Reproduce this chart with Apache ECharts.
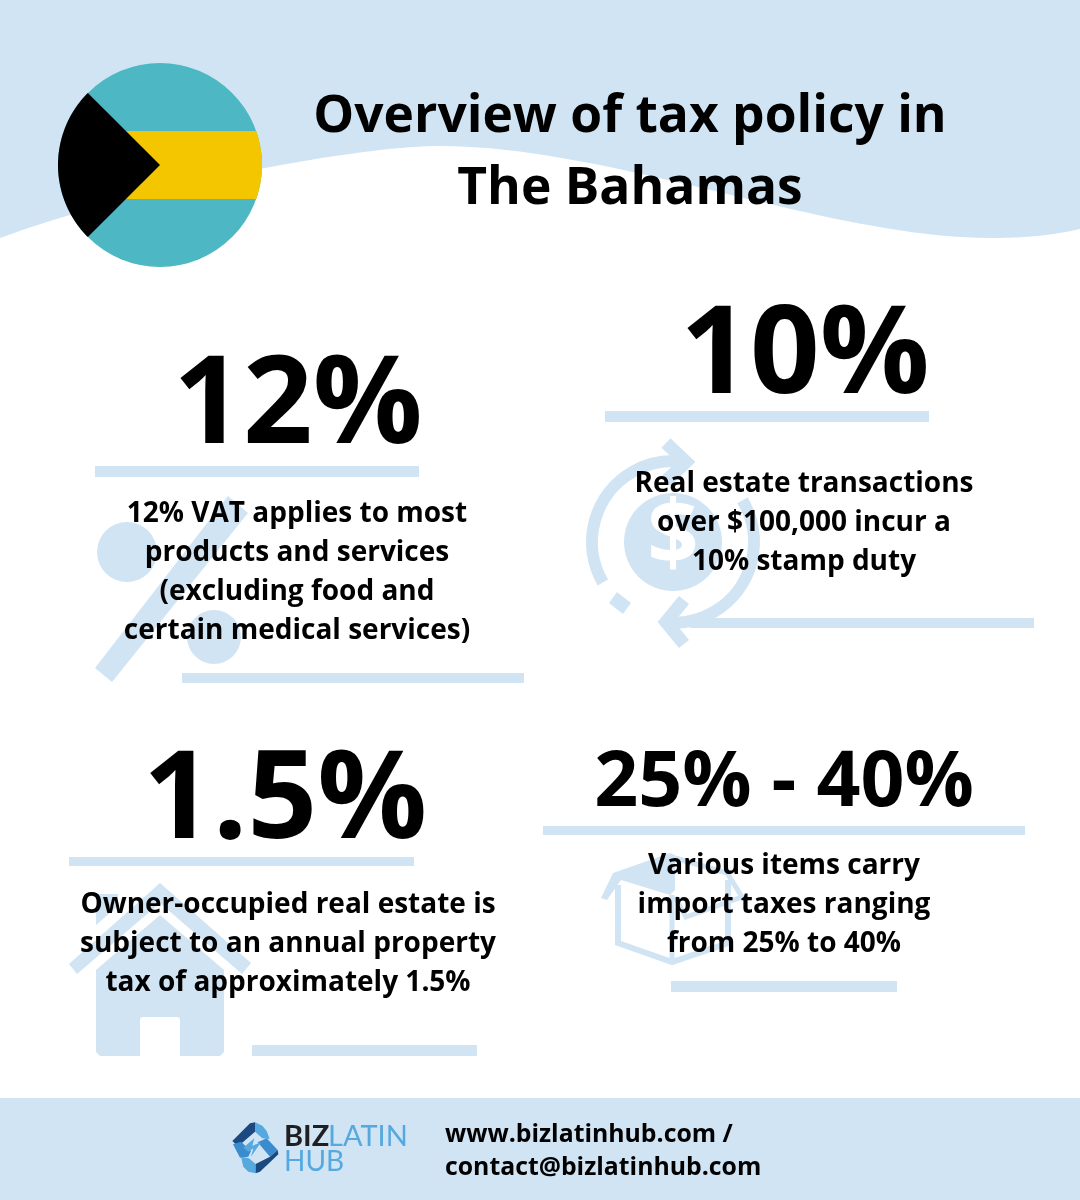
<!DOCTYPE html>
<html>
<head>
<meta charset="utf-8">
<title>Overview of tax policy in The Bahamas</title>
<style>
html, body { margin: 0; padding: 0; background: #fff; }
#main { width: 1080px; height: 1200px; }
</style>
<script src="https://cdn.jsdelivr.net/npm/echarts@6/dist/echarts.min.js"></script>
</head>
<body>
<div id="main"></div>
<script>
// 文案数据
var titleLines = ['Overview of tax policy in', 'The Bahamas'];
var rates = ['12%', '10%', '1.5%', '25% - 40%'];
var vatLines = ['12% VAT applies to most', 'products and services', '(excluding food and', 'certain medical services)'];
var stampLines = ['Real estate transactions', 'over $100,000 incur a', '10% stamp duty'];
var propertyLines = ['Owner-occupied real estate is', 'subject to an annual property', 'tax of approximately 1.5%'];
var importLines = ['Various items carry', 'import taxes ranging', 'from 25% to 40%'];
var contactLines = ['www.bizlatinhub.com /', 'contact@bizlatinhub.com'];

var PALE = '#d1e4f4';
var FONT = '"Open Sans", sans-serif';
var els = [];

function rect(x, y, w, h, fill, r) {
    els.push({ type: 'rect', shape: { x: x, y: y, width: w, height: h, r: r || 0 }, style: { fill: fill || PALE } });
}
function poly(points, fill) {
    els.push({ type: 'polygon', shape: { points: points }, style: { fill: fill || PALE } });
}
function line(points, width) {
    els.push({ type: 'polyline', shape: { points: points }, style: { stroke: PALE, lineWidth: width, fill: null, lineJoin: 'miter' } });
}
function arc(cx, cy, r, a0, a1, width) {
    els.push({
        type: 'arc',
        shape: { cx: cx, cy: cy, r: r, startAngle: a0 * Math.PI / 180, endAngle: a1 * Math.PI / 180, clockwise: true },
        style: { stroke: PALE, lineWidth: width, fill: null }
    });
}
function circle(cx, cy, r, fill) {
    els.push({ type: 'circle', shape: { cx: cx, cy: cy, r: r }, style: { fill: fill || PALE } });
}
function text(str, x, y, size, opts) {
    opts = opts || {};
    els.push({
        type: 'text',
        x: x,
        y: y,
        style: {
            text: str,
            fill: opts.fill || '#000',
            font: (opts.weight || 'bold') + ' ' + size + 'px ' + (opts.family || FONT),
            textAlign: opts.align || 'center',
            textVerticalAlign: 'middle',
            verticalAlign: 'middle'
        }
    });
}
// 多行文字
function textBlock(lines, x, ys, size) {
    for (var i = 0; i < lines.length; i++) {
        text(lines[i], x, ys[i], size);
    }
}
// 贝塞尔曲线转折线点
function bezier(p0, p1, p2, p3) {
    var out = [];
    for (var i = 0; i <= 40; i++) {
        var t = i / 40, u = 1 - t;
        out.push([
            u * u * u * p0[0] + 3 * u * u * t * p1[0] + 3 * u * t * t * p2[0] + t * t * t * p3[0],
            u * u * u * p0[1] + 3 * u * u * t * p1[1] + 3 * u * t * t * p2[1] + t * t * t * p3[1]
        ]);
    }
    return out;
}
function arcPoints(cx, cy, r, a0, a1) {
    var out = [];
    for (var i = 0; i <= 60; i++) {
        var a = (a0 + (a1 - a0) * i / 60) * Math.PI / 180;
        out.push([cx + r * Math.cos(a), cy + r * Math.sin(a)]);
    }
    return out;
}

// 顶部波浪背景
var wave = [[0, 0], [1080, 0], [1080, 229]]
    .concat(bezier([1080, 229], [1050, 236], [1020, 238], [990, 238]))
    .concat(bezier([990, 238], [830, 238], [610, 146], [440, 146]))
    .concat(bezier([440, 146], [350, 146], [130, 190], [0, 238]));
poly(wave);

// 底部色条
rect(0, 1098, 1080, 102);

// 百分号图标
poly([[95, 668], [112, 682], [248, 513], [228, 496]]);
circle(127, 552, 30);
circle(214, 637, 27);

// 货币循环图标
circle(673, 542, 49);
text('$', 673, 538, 90, { fill: '#fff' });
arc(673, 542, 81, 150, 277, 12);
arc(673, 542, 81, -31, 94, 12);
line([[666, 443], [686, 462], [666, 481]], 13);
line([[684, 600], [666, 622], [684, 644]], 13);
poly([[617, 592], [631, 603], [623, 614], [609, 603]]);

// 房屋图标
poly([[96, 894], [118, 894], [118, 906], [96, 925]]);
poly([[160, 883], [251, 963], [242, 974], [160, 903], [77, 974], [69, 964]]);
poly([[160, 915], [224, 970], [224, 1052], [220, 1056], [100, 1056], [96, 1052], [96, 970]]);
rect(140, 1017, 40, 39, '#fff', [3, 3, 0, 0]);

// 箱子图标
poly([[601, 898], [613, 873], [670, 853], [675, 855], [675, 890], [670, 895], [621, 880], [607, 900]]);
line([[675, 858], [727, 873], [742, 897], [686, 917], [675, 897]], 5);
line([[618, 885], [618, 943], [672, 962], [728, 943], [728, 880]], 6);
line([[672, 895], [672, 960]], 5);

// 分隔条
rect(95, 466, 324, 11);
rect(182, 673, 342, 10);
rect(605, 411, 324, 11);
rect(690, 618, 344, 10);
rect(69, 857, 345, 9);
rect(252, 1045, 225, 11);
rect(543, 826, 482, 9);
rect(671, 981, 226, 11);

// 国旗
circle(160, 165, 102, '#4db8c4');
poly([[110, 131]].concat(arcPoints(160, 165, 102, -19.5, 19.5)).concat([[110, 199]]), '#f4c600');
poly(arcPoints(160, 165, 102, 135, 225).concat([[160, 165]]), '#000');

// 标题
textBlock(titleLines, 630, [117, 189], 51.5);

// 四组税率
text(rates[0], 298, 408, 122);
text(rates[1], 805, 358, 122);
text(rates[2], 285, 803, 122);
text(rates[3], 784, 784, 77);
textBlock(vatLines, 297, [514, 553, 592, 631], 28);
textBlock(stampLines, 804, [484, 523, 562], 28);
textBlock(propertyLines, 288, [905, 944, 983], 28);
textBlock(importLines, 784, [866, 905, 944], 28);

// 页脚 logo
var DARK = '#1b4a80', MID = '#3a8ccf', SKY = '#56a9df';
var L = function (pts) {
    return pts.map(function (p) { return [225 + p[0] / 3, 1115 + p[1] / 3]; });
};
poly(L([[90, 22], [112, 32], [125, 48], [134, 72], [112, 70], [90, 50]]), SKY);
poly(L([[22, 78], [75, 25], [90, 22], [90, 50], [50, 85], [42, 97]]), DARK);
poly(L([[24, 88], [48, 80], [78, 108], [70, 125], [45, 128]]), MID);
poly(L([[98, 82], [125, 70], [158, 105], [135, 125]]), MID);
poly(L([[48, 125], [72, 130], [92, 147], [92, 175], [70, 170], [55, 155]]), SKY);
poly(L([[158, 105], [160, 118], [105, 170], [92, 175], [92, 147], [135, 125]]), DARK);
poly(L([[55, 98], [88, 70], [82, 92], [108, 82], [78, 125], [85, 100], [70, 110]]), SKY);
text('BIZ', 284, 1137, 29, { align: 'left', family: 'Lato, sans-serif', fill: '#1f1f22' });
text('LATIN', 328, 1137, 29, { align: 'left', family: 'Lato, sans-serif', weight: 'normal', fill: SKY });
text('HUB', 284, 1162, 28, { align: 'left', family: 'Lato, sans-serif', weight: 'normal', fill: SKY });
text(contactLines[0], 445, 1135, 24.8, { align: 'left' });
text(contactLines[1], 445, 1168, 24.8, { align: 'left' });

var myChart = echarts.init(document.getElementById('main'));
myChart.setOption({
    backgroundColor: '#fff',
    animation: false,
    graphic: { elements: els }
});
</script>
</body>
</html>
